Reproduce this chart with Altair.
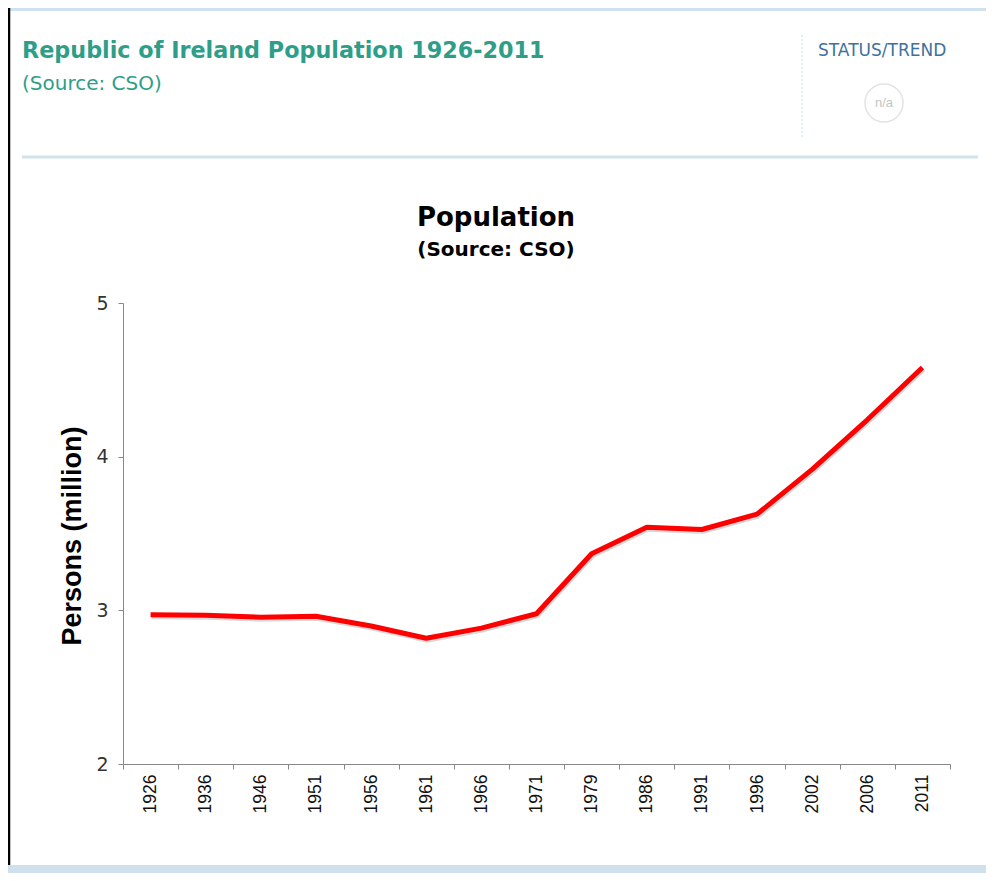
import altair as alt
import pandas as pd

# ---- data ----
years = ["1926", "1936", "1946", "1951", "1956", "1961", "1966", "1971",
         "1979", "1986", "1991", "1996", "2002", "2006", "2011"]
population = [2.972, 2.968, 2.955, 2.961, 2.898, 2.818, 2.884, 2.978,
              3.368, 3.540, 3.526, 3.626, 3.917, 4.240, 4.580]
y_ticks = [2, 3, 4, 5]

header_title = "Republic of Ireland Population 1926-2011"
header_source = "(Source: CSO)"
status_label = "STATUS/TREND"
status_value = "n/a"
chart_title = "Population"
chart_subtitle = "(Source: CSO)"
y_title = "Persons (million)"

df = pd.DataFrame({"year": years, "pop": population})
one = pd.DataFrame({"k": [0]})

SANS = "Liberation Sans"
WIDE = "DejaVu Sans"
TEAL = "#2f9e88"

W, H = 827, 461

xenc = alt.X(
    "year:O", sort=years,
    scale=alt.Scale(type="band", paddingInner=0, paddingOuter=0),
    bandPosition=0.5,
    axis=alt.Axis(title=None, labelAngle=270, tickBand="extent",
                  labelFont=SANS, labelFontSize=17.5, labelColor="#111",
                  labelPadding=5, tickSize=5, tickColor="#888",
                  domainColor="#888", labelOverlap=False),
)
yenc = alt.Y(
    "pop:Q",
    scale=alt.Scale(domain=[2, 5], nice=False, zero=False),
    axis=alt.Axis(title=None, values=y_ticks, grid=False, format="d",
                  labelFont=WIDE, labelFontSize=19, labelColor="#333",
                  labelPadding=10, tickSize=5, tickColor="#888",
                  domainColor="#888"),
)

shadow = alt.Chart(df).mark_line(color="#666", strokeWidth=5, opacity=0.25,
                                 yOffset=2, xOffset=1).encode(x=xenc, y=yenc)
line = alt.Chart(df).mark_line(color="#ff0000", strokeWidth=5,
                               strokeJoin="round").encode(x=xenc, y=yenc)


def txt(text, x, y, size, color, font=WIDE, weight="normal", align="left",
        angle=0, baseline="alphabetic"):
    return alt.Chart(one).mark_text(
        text=text, font=font, fontSize=size, color=color, fontWeight=weight,
        align=align, angle=angle, baseline=baseline,
    ).encode(x=alt.value(x), y=alt.value(y))


def hrule(x1, x2, y, color, width, dash=None):
    kw = dict(color=color, strokeWidth=width)
    if dash:
        kw["strokeDash"] = dash
    return alt.Chart(one).mark_rule(**kw).encode(
        x=alt.value(x1), x2=alt.value(x2), y=alt.value(y))


def vrule(x, y1, y2, color, width, dash=None):
    kw = dict(color=color, strokeWidth=width)
    if dash:
        kw["strokeDash"] = dash
    return alt.Chart(one).mark_rule(**kw).encode(
        x=alt.value(x), y=alt.value(y1), y2=alt.value(y2))


# offsets: plot origin sits at page (123, 303)
OX, OY = 123, 303

layers = [
    hrule(8 - OX, 986 - OX, 9.5 - OY, "#cfe2ee", 3),
    vrule(9 - OX, 8 - OY, 873 - OY, "#000000", 2.5),
    txt(header_title, 22 - OX, 58 - OY, 22.3, TEAL, weight="bold"),
    txt(header_source, 22 - OX, 90 - OY, 20, TEAL),
    vrule(802 - OX, 35 - OY, 137 - OY, "#bfe0ee", 1, dash=[2, 2]),
    txt(status_label, 818 - OX, 56 - OY, 17, "#3d72a0"),
    alt.Chart(one).mark_point(shape="circle", size=1444, filled=False,
                              color="#d8d8d8", strokeWidth=1.5).encode(
        x=alt.value(884 - OX), y=alt.value(103 - OY)),
    txt(status_value, 884 - OX, 103 - OY, 13, "#c4c4c4", font=SANS,
        align="center", baseline="middle"),
    hrule(22 - OX, 978 - OX, 157 - OY, "#cfe3ee", 3),
    txt(chart_title, 496 - OX, 226 - OY, 26, "#000", weight="bold",
        align="center"),
    txt(chart_subtitle, 496 - OX, 256 - OY, 20, "#000", weight="bold",
        align="center"),
    txt(y_title, 73 - OX, 536 - OY, 27, "#000", font=SANS, weight="bold",
        align="center", angle=270, baseline="middle"),
    hrule(8 - OX, 986 - OX, 869 - OY, "#cfdfeb", 8),
    shadow,
    line,
]

chart = alt.layer(*layers).properties(
    width=W, height=H,
    padding={"left": 115, "top": 295, "right": 36, "bottom": 109},
    autosize=alt.AutoSizeParams(type="none"),
    background="white",
).configure_view(stroke=None)

chart.save("out.html", embed_options={"renderer": "svg", "actions": False})
